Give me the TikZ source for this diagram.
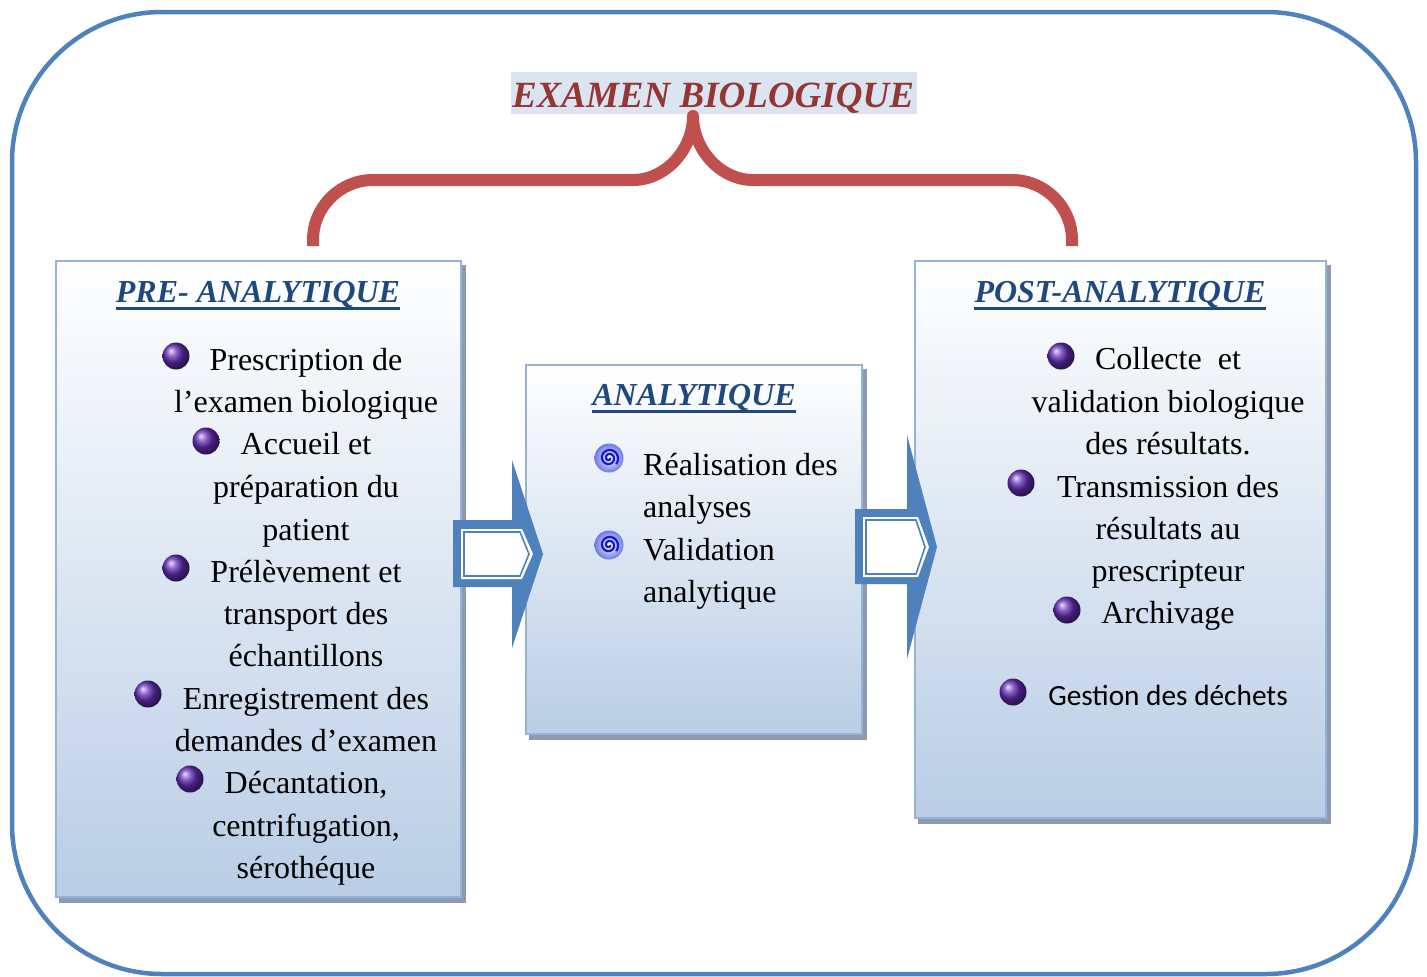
\documentclass[tikz,border=0pt]{standalone}
\usepackage{fontspec}
\setmainfont{Liberation Serif}
\newfontfamily\calibrifont{Carlito}
\usetikzlibrary{backgrounds}

\definecolor{frameblue}{RGB}{79,129,189}
\definecolor{boxedge}{RGB}{149,179,215}
\definecolor{boxbottom}{RGB}{185,205,229}
\definecolor{boxshadow}{RGB}{140,155,178}
\definecolor{headblue}{RGB}{31,73,125}
\definecolor{titlered}{RGB}{148,54,52}
\definecolor{bracketred}{RGB}{192,80,77}
\definecolor{titlebg}{RGB}{219,229,241}
\definecolor{bulletpurple}{RGB}{100,45,180}
\definecolor{spiralblue}{RGB}{25,25,190}
\definecolor{spiralhalo}{RGB}{110,120,235}

\tikzset{
  stage/.style={draw=boxedge, line width=2pt, top color=white, bottom color=boxbottom, inner sep=0pt},
  txt/.style={font=\fontsize{32}{38}\selectfont, inner sep=0pt, anchor=base},
  hdr/.style={font=\fontsize{32}{38}\selectfont\bfseries\itshape, text=headblue, inner sep=0pt, anchor=base},
  blockarrow/.style={fill=frameblue},
  pdot/.pic={\shade[ball color=bulletpurple] (0,0) circle (13.5);},
  swirl/.pic={
    \shade[inner color=white, outer color=spiralhalo] (0,0) circle (14.5);
    \draw[spiralblue, line width=2.2pt] plot[domain=0:760, samples=70, smooth]
      ({(1+\x/90)*cos(\x)}, {(1+\x/90)*sin(\x)});
  }
}

\begin{document}
\begin{tikzpicture}[x=1pt, y=-1pt]
\useasboundingbox (0,0) rectangle (1427,977);

% outer frame
\draw[frameblue, line width=4.5pt, rounded corners=150pt] (12,12) rectangle (1416,974);

% the three stages
\node[stage, minimum width=405pt, minimum height=636pt] (pre) at (258.5,579) {};
\node[stage, minimum width=336pt, minimum height=369pt] (ana) at (694,549.5) {};
\node[stage, minimum width=411pt, minimum height=557pt] (post) at (1120.5,539.5) {};

\begin{scope}[on background layer]
  \foreach \b in {pre,ana,post}
    \fill[boxshadow] ([xshift=4pt,yshift=-5pt]\b.south west) rectangle ([xshift=4pt,yshift=-5pt]\b.north east);
\end{scope}

% title
\fill[titlebg] (511,72) rectangle (917,114);
\node[inner sep=0pt, anchor=base, font=\fontsize{37}{44}\selectfont\bfseries\itshape, text=titlered] (title) at (713,107) {EXAMEN BIOLOGIQUE};

% brace joining the title to the outer stages
\draw[bracketred, line width=12pt, line join=round]
  (313,246) -- (313,240) .. controls (313,207) and (340,180) .. (373,180)
  -- (633,180) .. controls (666,180) and (693,149) .. (693,116)
  .. controls (693,149) and (720,180) .. (753,180)
  -- (1012,180) .. controls (1045,180) and (1072,207) .. (1072,240) -- (1072,246);

% block arrows between stages
\fill[blockarrow] (453,520) -- (512,520) -- (512,460) -- (543,554) -- (512,648) -- (512,587) -- (453,587) -- cycle;
\fill[white] (461,529) -- (522,529) -- (533,554) -- (522,579) -- (461,579) -- cycle;
\draw[frameblue, line width=1.6pt] (464,532) -- (520,532) -- (529,554) -- (520,576) -- (464,576) -- cycle;

\fill[blockarrow] (855,509) -- (907,509) -- (907,435) -- (937,547) -- (907,659) -- (907,584) -- (855,584) -- cycle;
\fill[white] (863,517) -- (918,517) -- (929,547) -- (918,577) -- (863,577) -- cycle;
\draw[frameblue, line width=1.6pt] (866,520) -- (916,520) -- (925,547) -- (916,574) -- (866,574) -- cycle;

% headers
\node[hdr] (hpre) at (258,302) {PRE- ANALYTIQUE};
\node[hdr] (hana) at (694,405) {ANALYTIQUE};
\node[hdr] (hpost) at (1120,302) {POST-ANALYTIQUE};
\foreach \h in {hpre,hana,hpost}
  \draw[headblue, line width=3pt] ([yshift=-6pt]\h.base west) -- ([yshift=-6pt]\h.base east);

% pre-analytic items
\pic at (176,356) {pdot};
\pic at (206,441) {pdot};
\pic at (176,568) {pdot};
\pic at (148,694) {pdot};
\pic at (190,779) {pdot};
\node[txt] (p1) at (306,370) {Prescription de};
\node[txt] (p2) at (306,412) {l’examen biologique};
\node[txt] (p3) at (306,454) {Accueil et};
\node[txt] (p4) at (306,497) {préparation du};
\node[txt] (p5) at (306,540) {patient};
\node[txt] (p6) at (306,582) {Prélèvement et};
\node[txt] (p7) at (306,624) {transport des};
\node[txt] (p8) at (306,666) {échantillons};
\node[txt] (p9) at (306,709) {Enregistrement des};
\node[txt] (p10) at (306,751) {demandes d’examen};
\node[txt] (p11) at (306,793) {Décantation,};
\node[txt] (p12) at (306,836) {centrifugation,};
\node[txt] (p13) at (306,878) {sérothéque};

% analytic items
\pic at (609,458) {swirl};
\pic at (609,545) {swirl};
\node[txt, anchor=base west] (a1) at (643,475) {Réalisation des};
\node[txt, anchor=base west] (a2) at (643,517) {analyses};
\node[txt, anchor=base west] (a3) at (643,560) {Validation};
\node[txt, anchor=base west] (a4) at (643,602) {analytique};

% post-analytic items
\pic at (1061,356) {pdot};
\pic at (1021,483) {pdot};
\pic at (1067,610) {pdot};
\pic at (1013,692) {pdot};
\node[txt] (q1) at (1168,369) {Collecte\ \ et};
\node[txt] (q2) at (1168,412) {validation biologique};
\node[txt] (q3) at (1168,454) {des résultats.};
\node[txt] (q4) at (1168,497) {Transmission des};
\node[txt] (q5) at (1168,539) {résultats au};
\node[txt] (q6) at (1168,581) {prescripteur};
\node[txt] (q7) at (1168,623) {Archivage};
\node[inner sep=0pt, anchor=base, font=\calibrifont\fontsize{29.3}{35}\selectfont] (q8) at (1168,705) {Gestion des déchets};
\end{tikzpicture}
\end{document}
